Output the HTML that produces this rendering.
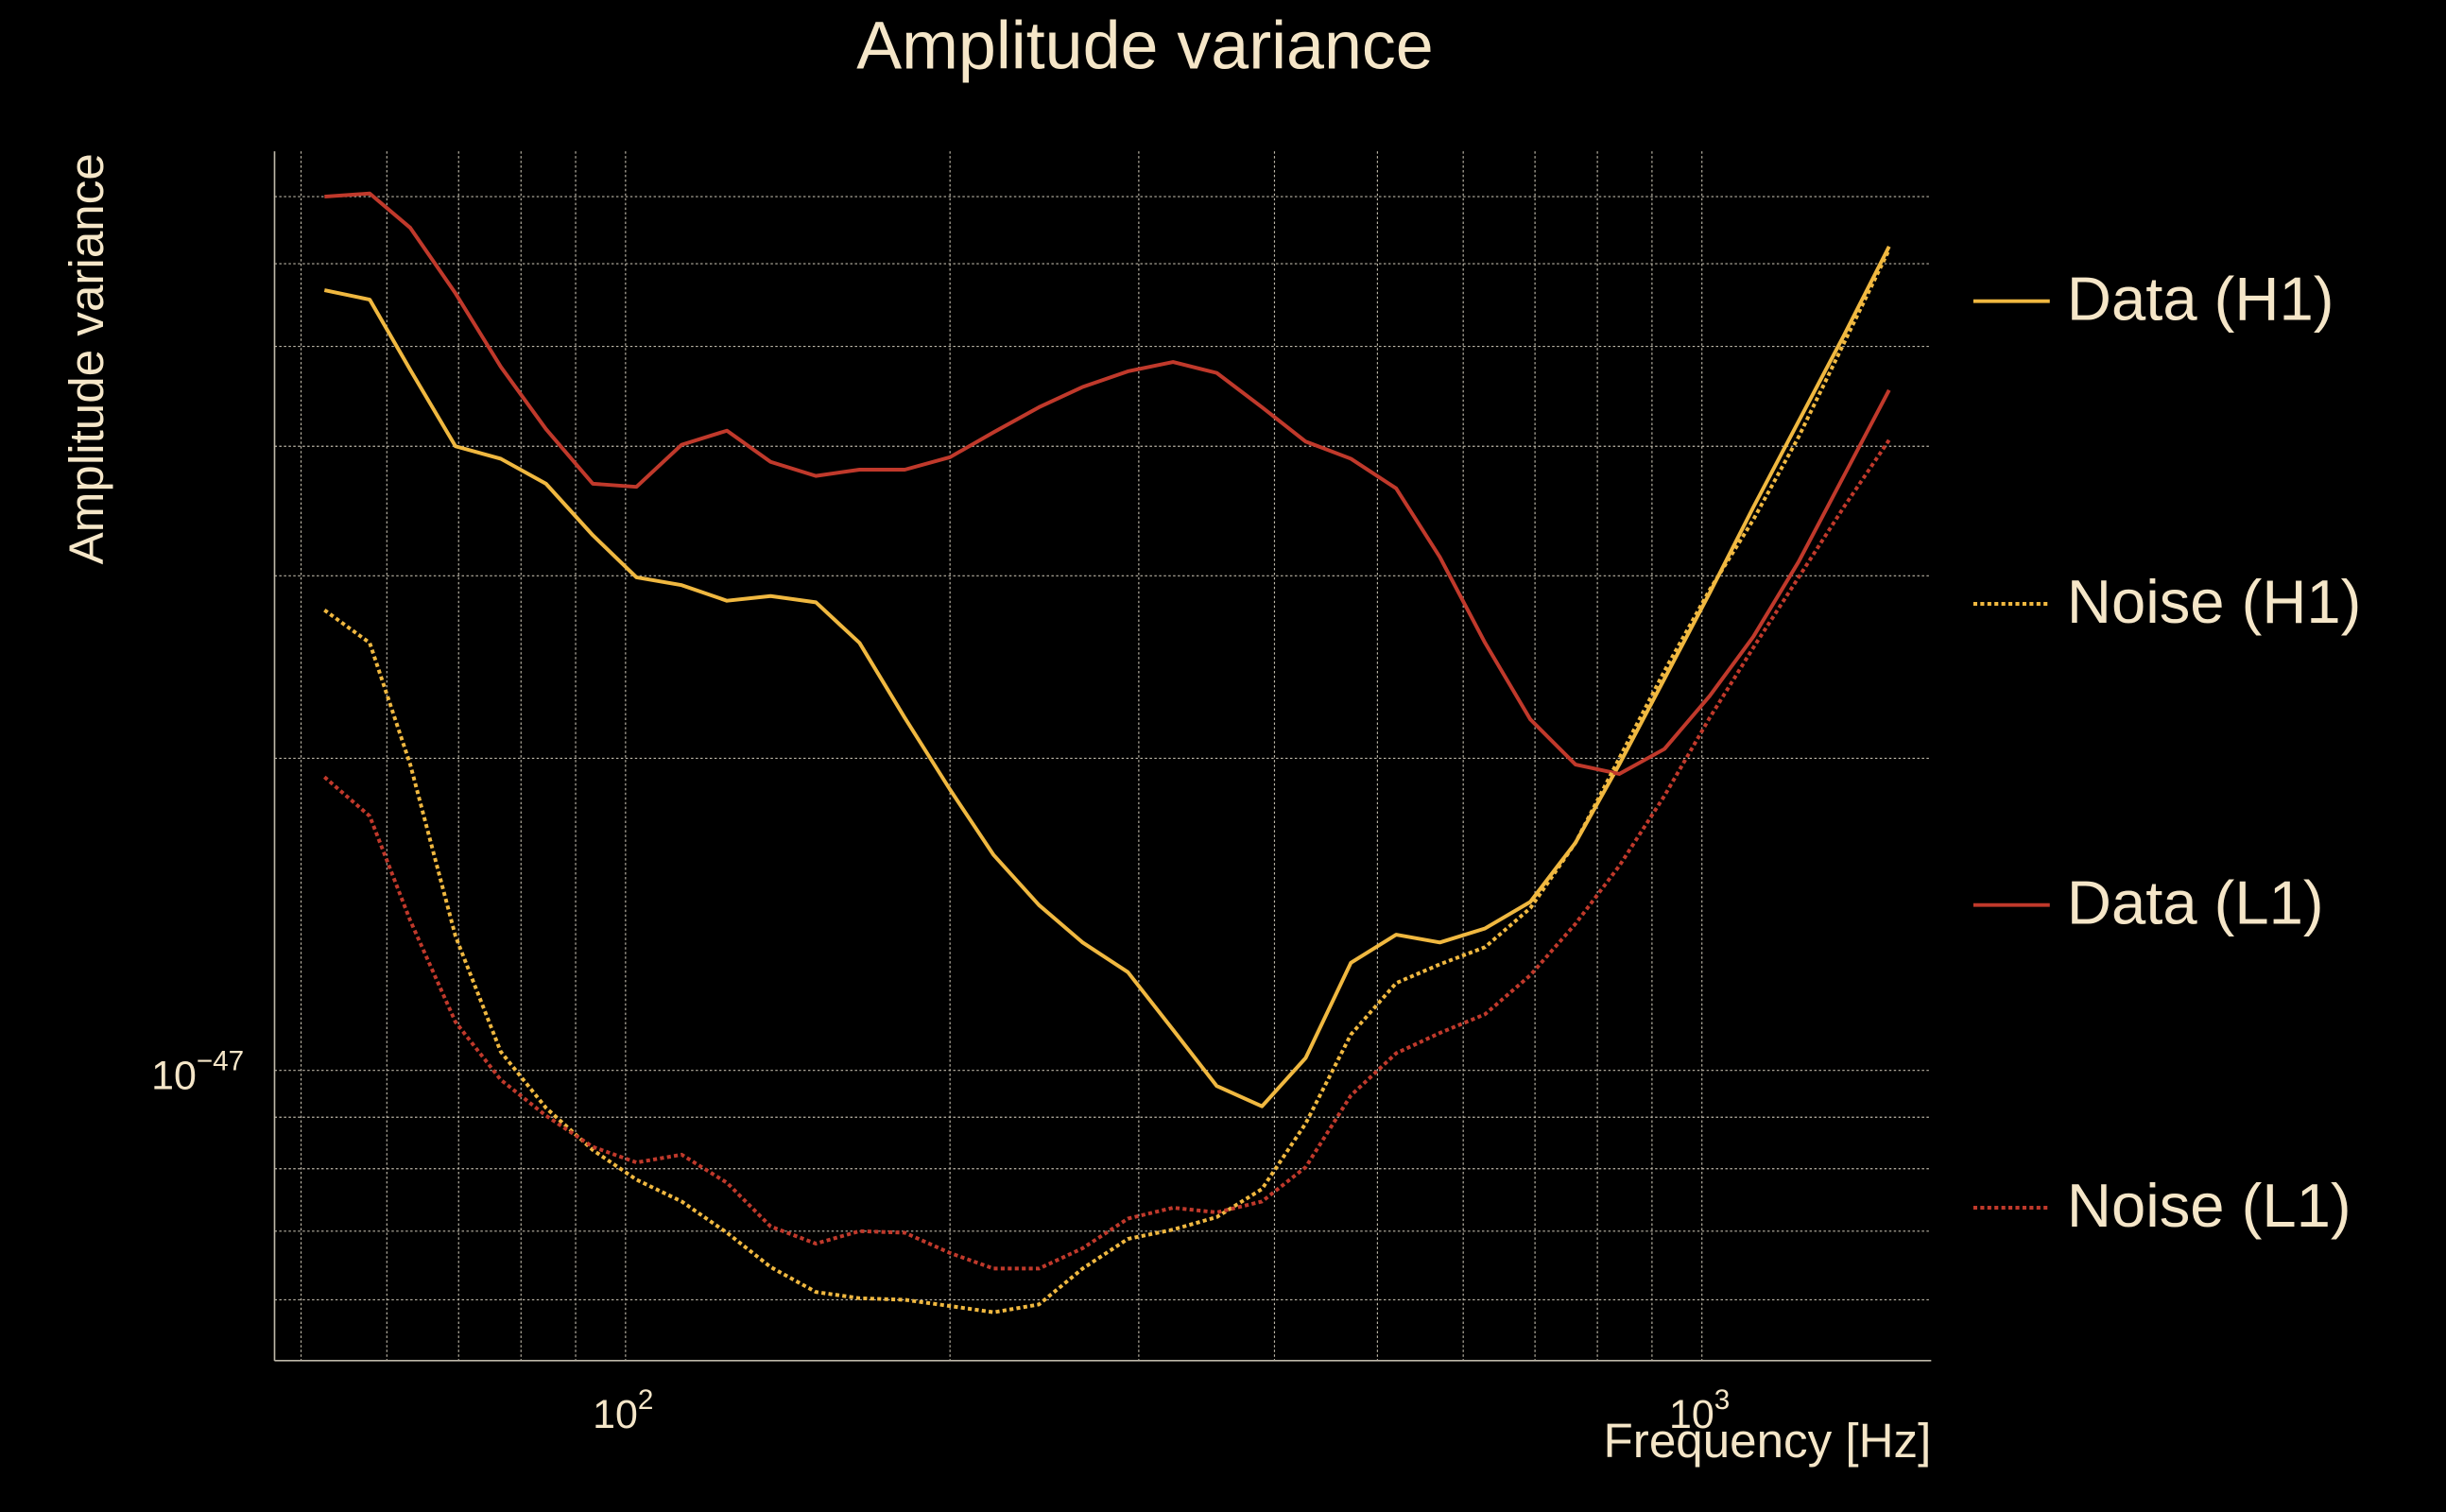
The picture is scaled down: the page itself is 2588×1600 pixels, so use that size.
<!DOCTYPE html>
<html><head><meta charset="utf-8"><style>
html,body{margin:0;padding:0;background:#000;}
svg{display:block;}
text{font-family:"Liberation Sans",sans-serif;fill:#f5e6c8;}
</style></head><body>
<svg width="2588" height="1600" viewBox="0 0 1568 969" preserveAspectRatio="none" xmlns="http://www.w3.org/2000/svg">
<rect width="1568" height="969" fill="#000"/>
<g stroke="#bdb7a8" stroke-width="0.7" stroke-dasharray="1.5,1.5">
<line x1="193" y1="97" x2="193" y2="872"/><line x1="248" y1="97" x2="248" y2="872"/>
<line x1="294" y1="97" x2="294" y2="872"/><line x1="334" y1="97" x2="334" y2="872"/>
<line x1="369" y1="97" x2="369" y2="872"/><line x1="401" y1="97" x2="401" y2="872"/>
<line x1="609" y1="97" x2="609" y2="872"/><line x1="730" y1="97" x2="730" y2="872"/>
<line x1="817" y1="97" x2="817" y2="872"/><line x1="883" y1="97" x2="883" y2="872"/>
<line x1="938" y1="97" x2="938" y2="872"/><line x1="984" y1="97" x2="984" y2="872"/>
<line x1="1024" y1="97" x2="1024" y2="872"/><line x1="1059" y1="97" x2="1059" y2="872"/>
<line x1="1091" y1="97" x2="1091" y2="872"/>
<line x1="176" y1="126" x2="1238" y2="126"/><line x1="176" y1="169" x2="1238" y2="169"/>
<line x1="176" y1="222" x2="1238" y2="222"/><line x1="176" y1="286" x2="1238" y2="286"/>
<line x1="176" y1="369" x2="1238" y2="369"/><line x1="176" y1="486" x2="1238" y2="486"/>
<line x1="176" y1="686" x2="1238" y2="686"/><line x1="176" y1="716" x2="1238" y2="716"/>
<line x1="176" y1="749" x2="1238" y2="749"/><line x1="176" y1="789" x2="1238" y2="789"/>
<line x1="176" y1="833" x2="1238" y2="833"/>
</g>
<g stroke="#bdb7a8" stroke-width="1">
<line x1="176" y1="97" x2="176" y2="872"/><line x1="176" y1="872" x2="1238" y2="872"/>
</g>
<g fill="none" stroke-width="2.4" stroke-linejoin="round">
<polyline stroke="#f0b840" points="208,186 237,192 263,237 292,286 321,294 350,310 380,343 408,370 437,375 466,385 494,382 523,386 551,412 580,460 609,506 637,548 666,580 694,604 723,623 752,660 780,696 809,709 837,678 866,617 895,599 923,604 952,595 981,578 1010,540 1038,490 1067,435 1096,380 1124,325 1153,270 1182,215 1211,158"/>
<polyline stroke="#c0392b" points="208,126 237,124 263,146 292,188 321,235 350,275 380,310 408,312 437,285 466,276 494,296 523,305 551,301 580,301 609,293 637,277 666,261 694,248 723,238 752,232 780,239 809,261 837,283 866,294 895,313 923,357 952,412 981,461 1010,490 1038,496 1067,480 1096,446 1124,408 1153,360 1182,305 1211,250"/>
<polyline stroke="#f0b840" stroke-dasharray="2.5,2" points="208,391 237,412 263,490 292,600 321,674 350,710 380,737 408,756 437,770 466,790 494,812 523,828 551,832 580,833 609,837 637,841 666,836 694,813 723,794 752,788 780,780 809,762 837,720 866,663 895,630 923,618 952,607 981,582 1010,540 1038,486 1067,430 1096,378 1124,333 1153,280 1182,220 1211,160"/>
<polyline stroke="#c0392b" stroke-dasharray="2.5,2" points="208,498 237,523 263,590 292,655 321,692 350,715 380,735 408,745 437,740 466,758 494,786 523,797 551,789 580,790 609,803 637,813 666,813 694,800 723,781 752,774 780,777 809,770 837,748 866,702 895,675 923,662 952,650 981,625 1010,592 1038,555 1067,510 1096,460 1124,415 1153,370 1182,325 1211,282"/>
</g>
<text x="734" y="44" font-size="43.5" text-anchor="middle">Amplitude variance</text>
<text transform="translate(66,230) rotate(-90)" font-size="31" text-anchor="middle">Amplitude variance</text>
<text x="1238" y="934" font-size="31" text-anchor="end">Frequency [Hz]</text>
<text x="380" y="915" font-size="26">10<tspan font-size="18" dy="-12">2</tspan></text>
<text x="1070" y="915" font-size="26">10<tspan font-size="18" dy="-12">3</tspan></text>
<text x="97" y="698" font-size="26">10<tspan font-size="18" dy="-12">−47</tspan></text>
<g stroke-width="2.4" fill="none">
<line x1="1265" y1="193" x2="1314" y2="193" stroke="#f0b840"/>
<line x1="1265" y1="387" x2="1314" y2="387" stroke="#f0b840" stroke-dasharray="2.5,2"/>
<line x1="1265" y1="580" x2="1314" y2="580" stroke="#c0392b"/>
<line x1="1265" y1="774" x2="1314" y2="774" stroke="#c0392b" stroke-dasharray="2.5,2"/>
</g>
<text x="1325" y="205" font-size="39.5">Data (H1)</text>
<text x="1325" y="399" font-size="39.5">Noise (H1)</text>
<text x="1325" y="592" font-size="39.5">Data (L1)</text>
<text x="1325" y="786" font-size="39.5">Noise (L1)</text>
</svg>
</body></html>
